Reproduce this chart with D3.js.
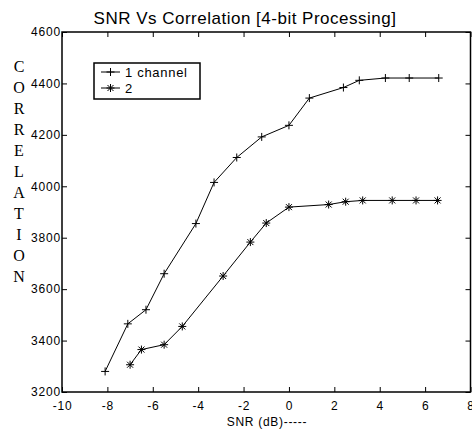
<!DOCTYPE html>
<html>
<head>
<meta charset="utf-8">
<script src="https://cdn.jsdelivr.net/npm/d3@7"></script>
<style>
  body { margin: 0; background: #fff; }
  svg text { font-family: "Liberation Sans", Arial, sans-serif; fill: #000; }
</style>
</head>
<body>
<div id="chart"></div>
<script>
// dati
const snr1 = [-8.1, -7.1, -6.3, -5.5, -4.1, -3.3, -2.3, -1.2, 0, 0.9, 2.4, 3.1, 4.25, 5.3, 6.6];
const corr1 = [3280, 3465, 3520, 3660, 3855, 4015, 4112, 4192, 4237, 4343, 4384, 4412, 4421, 4421, 4421];
const snr2 = [-7.0, -6.5, -5.5, -4.7, -2.9, -1.7, -1.0, 0, 1.75, 2.5, 3.25, 4.55, 5.6, 6.55];
const corr2 = [3306, 3365, 3384, 3455, 3651, 3783, 3857, 3919, 3929, 3940, 3945, 3945, 3945, 3945];
const xTicks = [-10, -8, -6, -4, -2, 0, 2, 4, 6, 8];
const yTicks = [3200, 3400, 3600, 3800, 4000, 4200, 4400, 4600];
const legendLabels = ['1 channel', '2'];
const yLetters = 'CORRELATION'.split('');

const W = 472, H = 430;
const margin = { left: 62, right: 1.5, top: 32, bottom: 38 };

const svg = d3.select('#chart').append('svg')
    .attr('width', W).attr('height', H);

const x = d3.scaleLinear().domain([-10, 8]).range([margin.left, W - margin.right]);
const y = d3.scaleLinear().domain([3200, 4600]).range([H - margin.bottom, margin.top]);

// titolo
svg.append('text')
    .attr('x', 245).attr('y', 24)
    .attr('text-anchor', 'middle')
    .style('font-size', '17px')
    .style('letter-spacing', '0.5px')
    .text('SNR Vs Correlation [4-bit Processing]');

// assi con tacche verso l'interno
const tick = 5;
const fmt = d => String(d);  // trattino normale come nell'originale
svg.append('g')
    .attr('transform', `translate(0,${y(3200)})`)
    .call(d3.axisBottom(x).tickValues(xTicks).tickSize(-tick).tickPadding(9).tickFormat(fmt))
    .call(g => g.select('.domain').remove());
svg.append('g')
    .attr('transform', `translate(0,${y(4600)})`)
    .call(d3.axisTop(x).tickValues(xTicks).tickSize(-tick).tickFormat(''))
    .call(g => g.select('.domain').remove());
svg.append('g')
    .attr('transform', `translate(${x(-10)},0)`)
    .call(d3.axisLeft(y).tickValues(yTicks).tickSize(-tick).tickPadding(1).tickFormat(fmt))
    .call(g => g.select('.domain').remove());
svg.append('g')
    .attr('transform', `translate(${x(8)},0)`)
    .call(d3.axisRight(y).tickValues(yTicks).tickSize(-tick).tickFormat(''))
    .call(g => g.select('.domain').remove());

svg.selectAll('.tick text')
    .style('font-size', '12px')
    .style('letter-spacing', '0.8px')
    .attr('fill', '#000');
svg.selectAll('.tick line').attr('stroke', '#000');

// cornice del grafico
svg.append('rect')
    .attr('x', x(-10)).attr('y', y(4600))
    .attr('width', x(8) - x(-10)).attr('height', y(3200) - y(4600))
    .attr('fill', 'none').attr('stroke', '#000').attr('stroke-width', 1.5);

// etichetta asse x
svg.append('text')
    .attr('x', 267).attr('y', 426)
    .attr('text-anchor', 'middle')
    .style('font-size', '12px')
    .style('letter-spacing', '0.7px')
    .text('SNR (dB)-----');

// etichetta asse y, lettere impilate
svg.append('g').selectAll('text')
    .data(yLetters)
    .join('text')
    .attr('x', 19)
    .attr('y', (d, i) => 71.5 + i * 21)
    .attr('text-anchor', 'middle')
    .style('font-family', '"Liberation Serif", "Times New Roman", serif')
    .style('font-size', '16px')
    .text(d => d);

// marker
function plusMarker(g, px, py) {
    g.append('path')
        .attr('d', `M${px - 4},${py}H${px + 4}M${px},${py - 4}V${py + 4}`)
        .attr('stroke', '#000').attr('stroke-width', 1);
}
function starMarker(g, px, py) {
    plusMarker(g, px, py);
    g.append('path')
        .attr('d', `M${px - 3},${py - 3}L${px + 3},${py + 3}M${px - 3},${py + 3}L${px + 3},${py - 3}`)
        .attr('stroke', '#000').attr('stroke-width', 1);
}

const line = d3.line().x(d => x(d[0])).y(d => y(d[1]));
const series = [
    { xs: snr1, ys: corr1, marker: plusMarker },
    { xs: snr2, ys: corr2, marker: starMarker }
];
series.forEach(s => {
    const pts = s.xs.map((v, i) => [v, s.ys[i]]);
    svg.append('path')
        .datum(pts)
        .attr('d', line)
        .attr('fill', 'none')
        .attr('stroke', '#000')
        .attr('stroke-width', 1);
    const g = svg.append('g');
    pts.forEach(p => s.marker(g, x(p[0]), y(p[1])));
});

// legenda
const leg = svg.append('g');
leg.append('rect')
    .attr('x', 94).attr('y', 63)
    .attr('width', 106).attr('height', 36)
    .attr('fill', '#fff').attr('stroke', '#000').attr('stroke-width', 1.5);
legendLabels.forEach((lab, i) => {
    const ly = 72 + i * 16;
    leg.append('line')
        .attr('x1', 101).attr('x2', 120).attr('y1', ly).attr('y2', ly)
        .attr('stroke', '#000');
    series[i].marker(leg, 110.5, ly);
    leg.append('text')
        .attr('x', 125).attr('y', ly + 4.5)
        .style('font-size', '13px')
        .style('letter-spacing', '0.7px')
        .text(lab);
});
</script>
</body>
</html>
